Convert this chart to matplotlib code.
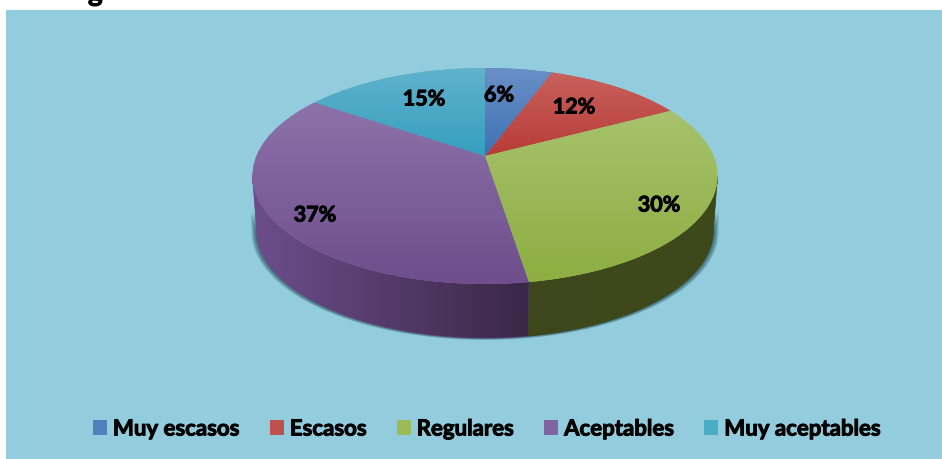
import matplotlib
matplotlib.use('Agg')
import matplotlib.pyplot as plt
import matplotlib.patheffects as pe
import numpy as np
from matplotlib.patches import Rectangle
from matplotlib.transforms import Transform

categories = ['Muy escasos', 'Escasos', 'Regulares', 'Aceptables', 'Muy aceptables']
values = [5.6, 11.6, 30.3, 37.1, 15.4]

top_colors = ['#6A90C6', '#C9615C', '#A7C26C', '#8D72A9', '#62B2CC']
low_colors = ['#3F72B4', '#B83C38', '#8DAE42', '#6E4E8C', '#34A0BE']
legend_colors = ['#4F81BD', '#C0504D', '#9BBB59', '#8064A2', '#4BACC6']
label_pos = [(499, 95), (574, 107), (659, 205), (315, 215), (424, 99)]

BG = '#93CCDD'
CX, CY = 485, 156
A, B, K = 228.5, 104.3, 0.185
DEPTH = 54


class Tilt(Transform):
    # unit circle -> tilted disc in pixel coordinates
    input_dims = 2
    output_dims = 2

    def __init__(self, drop=0, shrink=1.0):
        super().__init__()
        self.drop = drop
        self.shrink = shrink

    def transform_non_affine(self, values):
        pts = np.asarray(values, dtype=float)
        d = 1 + K * pts[:, 1]
        x = CX + self.shrink * A * pts[:, 0] / d
        y = CY - B * pts[:, 1] / d + self.drop
        return np.column_stack([x, y])


def rim(start, stop, tilt):
    t = np.radians(np.linspace(start, stop, 120))
    return tilt.transform(np.column_stack([np.sin(t), np.cos(t)]))


def gradient(c1, c2, vertical=True):
    c = np.linspace(matplotlib.colors.to_rgb(c1), matplotlib.colors.to_rgb(c2), 64)
    return c[:, None, :] if vertical else c[None, :, :]


heavy = [pe.withStroke(linewidth=0.7, foreground='black')]

fig = plt.figure(figsize=(9.42, 4.59), dpi=100, facecolor='white')
ax = fig.add_axes([0, 0, 1, 1])

top = Tilt()
wedges, _, autotexts = ax.pie(values, startangle=90, counterclock=False, colors=legend_colors,
                              autopct='%.0f%%', radius=1)
ax.set_aspect('auto')

ax.add_patch(Rectangle((6, 10), 940, 455, facecolor=BG, edgecolor='none', zorder=0))

# cut off title line above the panel
ax.text(88, 1, 'g', fontsize=20, family='Lato', fontweight='bold', color='black',
        va='baseline', clip_on=False, path_effects=heavy)
ax.text(506, -6, 'p', fontsize=14, family='Lato', color='black', va='baseline', clip_on=False)

right = np.degrees(np.arccos(-K))
left = 360 - right
split = 3.6 * sum(values[:3])
floor = Tilt(DEPTH, 0.982)

# soft shadow round the wall
for s in [5, 4, 3, 2, 1]:
    grown = Tilt(DEPTH + s * 0.4, 0.982 + s / 230)
    mid = Tilt(30, 0.985 + s / 230)
    pts = np.vstack([rim(right, left, grown), rim(left, right, mid)])
    ax.fill(pts[:, 0], pts[:, 1], color='#1E4650', alpha=0.2, lw=0, zorder=1)

# wall
walls = [(right, split, '#3F4A1C', '#3D471B'), (split, left, '#3B2848', '#6C4D8B')]
for start, stop, c1, c2 in walls:
    pts = np.vstack([rim(start, stop, top), rim(stop, start, floor)])
    poly = ax.fill(pts[:, 0], pts[:, 1], color=c2, lw=0.5, zorder=2)[0]
    im = ax.imshow(gradient(c2, c1, vertical=False),
                   extent=(pts[:, 0].min(), pts[:, 0].max(), pts[:, 1].max(), pts[:, 1].min()),
                   aspect='auto', zorder=3)
    im.set_clip_path(poly)

# top face
for i, w in enumerate(wedges):
    w.set_transform(top + ax.transData)
    w.set_zorder(4)
    w.set_linewidth(0)
    box = top.transform_path(w.get_path()).get_extents()
    im = ax.imshow(gradient(top_colors[i], low_colors[i]),
                   extent=(box.x0, box.x1, box.y1, box.y0), aspect='auto', zorder=5)
    im.set_clip_path(w)

for t, pos in zip(autotexts, label_pos):
    t.set_position(pos)
    t.set(ha='center', va='center', family='Lato', fontweight='bold', fontsize=15.5,
          color='black', zorder=6, path_effects=heavy)

ax.set_xlim(0, 942)
ax.set_ylim(459, 0)
ax.set_axis_off()

leg = ax.legend(wedges, categories, ncol=5, frameon=False, loc='center',
                bbox_to_anchor=(487, 429), bbox_transform=ax.transData,
                prop=dict(family='Lato', weight='bold', size=16),
                handlelength=0.64, handleheight=0.64, handletextpad=0.26,
                columnspacing=1.34, borderpad=0, borderaxespad=0)
leg.set_zorder(7)
for t in leg.get_texts():
    t.set_path_effects(heavy)

fig.savefig('out.png', dpi=100)
